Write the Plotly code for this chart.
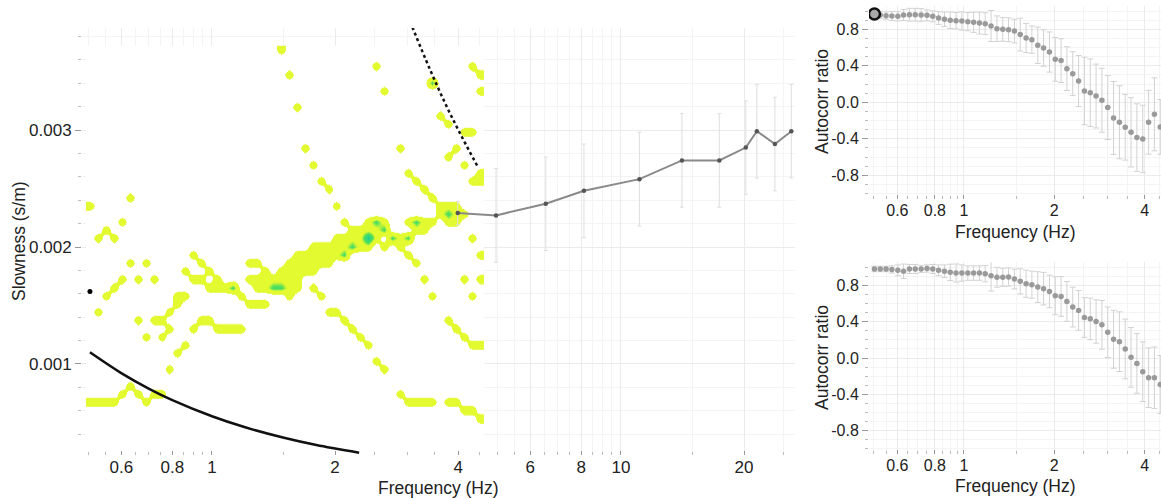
import numpy as np
import plotly.graph_objects as go

FONT = "Liberation Sans, Arial, Helvetica, sans-serif"
W, H = 1161, 499

# ---- frequency sampling shared by the heatmap columns and autocorr points (Hz)
freqs = [0.503, 0.526, 0.550, 0.575, 0.602, 0.629, 0.658, 0.688, 0.720, 0.753,
         0.787, 0.823, 0.861, 0.900, 0.941, 0.984, 1.030, 1.077, 1.126, 1.177,
         1.231, 1.288, 1.347, 1.408, 1.473, 1.540, 1.611, 1.684, 1.762, 1.842,
         1.927, 2.015, 2.107, 2.203, 2.304, 2.410, 2.520, 2.636, 2.756, 2.882,
         3.014, 3.152, 3.297, 3.448, 3.605, 3.770, 3.943, 4.124, 4.312, 4.510]

# ---- slowness bins of the heatmap (s/m), ascending
slow_bins = [0.000185, 0.000255, 0.000325, 0.000395, 0.000465, 0.000535, 0.000605,
             0.000675, 0.000745, 0.000815, 0.000885, 0.000955, 0.001025, 0.001095,
             0.001165, 0.001235, 0.001305, 0.001375, 0.001445, 0.001515, 0.001585,
             0.001655, 0.001725, 0.001795, 0.001865, 0.001935, 0.002005, 0.002075,
             0.002145, 0.002215, 0.002285, 0.002355, 0.002425, 0.002495, 0.002565,
             0.002635, 0.002705, 0.002775, 0.002845, 0.002915, 0.002985, 0.003055,
             0.003125, 0.003195, 0.003265, 0.003335, 0.003405, 0.003475, 0.003545,
             0.003615, 0.003685]

# ---- heatmap levels, one string per slowness bin, top (largest slowness) first
# '.' = below threshold, '1' = yellow, '2' = green, '3' = cyan peak
heat_rows = [
    "..........|..........|....1.....|..........|..........",
    "..........|..........|..........|..........|..........",
    "..........|..........|..........|......1...|........1.",
    "..........|..........|.....1....|..........|.........1",
    "..........|..........|..........|..........|...2......",
    "..........|..........|..........|.......1..|.........1",
    "..........|..........|..........|..........|..........",
    "..........|..........|......1...|..........|..........",
    "..........|..........|..........|..........|....1.....",
    "..........|..........|..........|..........|.....1....",
    "..........|..........|..........|..........|.......11.",
    "..........|..........|..........|..........|..........",
    "..........|..........|.......1..|.........1|......1...",
    "..........|..........|..........|..........|.....1....",
    "..........|..........|........1.|..........|.......1..",
    "..........|..........|..........|..........|1........1",
    "..........|..........|.........1|..........|.1......11",
    "..........|..........|..........|1.........|..1.......",
    ".....1....|..........|..........|..........|...1......",
    "1.........|..........|..........|.1........|....111...",
    "..........|..........|..........|..........|....1211..",
    "....1.....|..........|..........|..1..121..|1211.11...",
    "..1.......|..........|..........|...11112..|.11.......",
    ".1.1......|..........|..........|.111131.21|2.......1.",
    "..........|..........|........11|111211.1.1|..........",
    "..........|...1......|......1111|112.......|1........1",
    ".....1.1..|....1.....|11...11111|1.........|.1........",
    "..........|..1..1....|..1.11111.|..........|..........",
    "....1.1.1.|...11.1...|1111111...|..........|..1....1.1",
    "...1......|.....1112.|.112211.1.|..........|..........",
    "..1.......|.11......1|.....1...1|..........|...1....1.",
    "..........|.1........|111.......|..........|..........",
    ".1........|1.........|..........|11........|..........",
    "......1.11|....11....|..........|..1.......|.....1....",
    "..........|1..1..1111|..........|...1......|......1...",
    ".......1.1|..........|..........|....1.....|.......1..",
    "..........|..1.......|..........|.....1....|........11",
    "..........|.1........|..........|..........|..........",
    "..........|..........|..........|......1...|..........",
    "..........|1.........|..........|.......1..|..........",
    "..........|..........|..........|..........|..........",
    ".....1....|..........|..........|..........|..........",
    "....1.1.11|..........|..........|.........1|..........",
    "1111...1..|..........|..........|..........|1111.11...",
    "..........|..........|..........|..........|.......11.",
    "..........|..........|..........|..........|.........1",
    "..........|..........|..........|..........|..........",
    "..........|..........|..........|..........|..........",
    "..........|..........|..........|..........|..........",
    "..........|..........|..........|..........|..........",
    "..........|..........|..........|..........|..........",
]

# ---- resolution-limit curves (solid: large-wavelength limit, dotted: small-wavelength limit)
lim_f = [0.503, 0.6, 0.7, 0.8, 1.0, 1.2, 1.5, 1.8, 2.0, 2.29]
lim_s = [0.00110, 0.000922, 0.000790, 0.000691, 0.000553, 0.000461, 0.000369, 0.000307, 0.000277, 0.000242]
dot_f = [3.09, 3.4, 3.75, 4.1, 4.46]
dot_s = [0.00388, 0.00353, 0.00320, 0.00293, 0.00269]
mark_f = [0.503]
mark_s = [0.00162]

# ---- picked dispersion curve (gray)
disp_f = [3.99, 4.95, 6.55, 8.12, 11.1, 14.1, 17.4, 20.2, 21.5, 23.8, 26.1]
disp_s = [0.00229, 0.00227, 0.00237, 0.00248, 0.00258, 0.00274, 0.00274, 0.00285, 0.00299, 0.00288, 0.00299]
disp_err = [0.0001, 0.0004, 0.0004, 0.0004, 0.0004, 0.0004, 0.0004, 0.0004, 0.0004, 0.0004, 0.0004]

# ---- autocorrelation ratios (top and bottom right panels)
ac1 = [0.968, 0.957, 0.950, 0.946, 0.942, 0.957, 0.960, 0.960, 0.957, 0.953,
       0.942, 0.924, 0.910, 0.899, 0.895, 0.891, 0.884, 0.877, 0.869, 0.862,
       0.836, 0.807, 0.800, 0.796, 0.781, 0.742, 0.705, 0.687, 0.625, 0.595,
       0.551, 0.471, 0.457, 0.369, 0.314, 0.233, 0.124, 0.106, 0.069, 0.022,
       -0.058, -0.172, -0.219, -0.274, -0.329, -0.387, -0.402, -0.219, -0.132, -0.270]
err1 = [0.03, 0.04, 0.04, 0.05, 0.05, 0.06, 0.07, 0.07, 0.07, 0.06,
        0.06, 0.07, 0.08, 0.09, 0.09, 0.10, 0.10, 0.11, 0.12, 0.12,
        0.17, 0.14, 0.13, 0.13, 0.13, 0.18, 0.16, 0.15, 0.20, 0.20,
        0.22, 0.24, 0.24, 0.24, 0.24, 0.28, 0.37, 0.37, 0.35, 0.35,
        0.35, 0.40, 0.40, 0.36, 0.38, 0.37, 0.37, 0.35, 0.40, 0.30]
ac2 = [0.985, 0.985, 0.985, 0.980, 0.970, 0.960, 0.985, 0.985, 0.985, 0.990,
       0.985, 0.970, 0.960, 0.948, 0.940, 0.940, 0.940, 0.940, 0.940, 0.933,
       0.911, 0.893, 0.893, 0.896, 0.874, 0.848, 0.822, 0.811, 0.785, 0.767,
       0.737, 0.689, 0.681, 0.626, 0.563, 0.526, 0.448, 0.433, 0.404, 0.367,
       0.285, 0.207, 0.181, 0.100, 0.007, -0.060, -0.152, -0.218, -0.218, -0.293]
err2 = [0.03, 0.03, 0.03, 0.04, 0.06, 0.08, 0.05, 0.05, 0.04, 0.04,
        0.05, 0.06, 0.07, 0.09, 0.10, 0.09, 0.08, 0.08, 0.08, 0.09,
        0.17, 0.11, 0.10, 0.10, 0.11, 0.14, 0.15, 0.15, 0.17, 0.18,
        0.18, 0.21, 0.22, 0.22, 0.22, 0.22, 0.22, 0.23, 0.24, 0.27,
        0.28, 0.32, 0.33, 0.33, 0.33, 0.33, 0.33, 0.33, 0.34, 0.32]

# ---- ticks
x_major_left = [0.6, 0.8, 1, 2, 4, 6, 8, 10, 20]
x_minor_left = [0.5, 0.55, 0.65, 0.7, 0.75, 0.85, 0.9, 0.95, 1.5, 2.5, 3, 3.5, 4.5,
                5, 5.5, 6.5, 7, 7.5, 8.5, 9, 9.5, 15, 25]
y_major_left = [0.001, 0.002, 0.003]
x_major_right = [0.6, 0.8, 1, 2, 4]
x_minor_right = [0.5, 0.55, 0.65, 0.7, 0.75, 0.85, 0.9, 0.95, 1.5, 2.5, 3, 3.5, 4.5]
y_major_right = [-0.8, -0.4, 0.0, 0.4, 0.8]

level = {'.': 0, '1': 1, '2': 2, '3': 3}
z = [[level[ch] for ch in row.replace('|', '')] for row in reversed(heat_rows)]

heat_cs = [[0.0, '#ffffff'], [0.145, '#ffffff'], [0.15, '#e3fa30'], [0.44, '#e3fa30'],
           [0.6, '#4fdf5e'], [0.75, '#3edb6e'], [1.0, '#1cc8a8']]

fig = go.Figure()
fig.add_trace(go.Heatmap(x=freqs, y=slow_bins, z=z, zmin=0, zmax=3, colorscale=heat_cs,
                         zsmooth='best', showscale=False, hoverinfo='skip',
                         xaxis='x', yaxis='y'))
fig.add_trace(go.Scatter(x=disp_f, y=disp_s, mode='lines+markers',
                         line=dict(color='#8a8a8a', width=2),
                         marker=dict(color='#555555', size=4.5),
                         error_y=dict(type='data', array=disp_err, color='#dedede',
                                      thickness=1, width=2),
                         xaxis='x', yaxis='y'))
fig.add_trace(go.Scatter(x=lim_f, y=lim_s, mode='lines', line=dict(color='#111111', width=2.5, shape='spline'),
                         xaxis='x', yaxis='y'))
fig.add_trace(go.Scatter(x=dot_f, y=dot_s, mode='lines', line=dict(color='#111111', width=2.5, dash='dot', shape='spline'),
                         xaxis='x', yaxis='y'))
fig.add_trace(go.Scatter(x=mark_f, y=mark_s, mode='markers', marker=dict(color='#000000', size=5),
                         xaxis='x', yaxis='y'))

for ac, er, xa, ya in [(ac1, err1, 'x2', 'y2'), (ac2, err2, 'x3', 'y3')]:
    fig.add_trace(go.Scatter(x=freqs, y=ac, mode='markers',
                             marker=dict(color='#9a9a9a', size=5.5),
                             error_y=dict(type='data', array=er, color='#d2d2d2', thickness=1, width=3),
                             xaxis=xa, yaxis=ya))
fig.add_trace(go.Scatter(x=freqs[:1], y=ac1[:1], mode='markers',
                         marker=dict(color='#a8a8a8', size=11, line=dict(color='#111111', width=2.5)),
                         xaxis='x2', yaxis='y2'))


def xaxis_def(domain, rng, major, minor, anchor, fsize):
    return dict(type='log', domain=domain, range=rng, anchor=anchor,
                tickmode='array', tickvals=major, ticktext=[('%g' % v) for v in major],
                ticks='inside', ticklen=4, tickcolor='#999999', tickwidth=1,
                tickfont=dict(family=FONT, size=fsize, color='#222222'),
                showgrid=True, gridcolor='#ebebeb', gridwidth=1,
                zeroline=False, showline=False,
                minor=dict(tickmode='array', tickvals=minor, ticks='inside', ticklen=3,
                           tickcolor='#bbbbbb', showgrid=True, gridcolor='#f4f4f4'))


def yaxis_def(domain, rng, major, labels, minor_dtick, anchor, fsize):
    return dict(domain=domain, range=rng, anchor=anchor,
                tickmode='array', tickvals=major, ticktext=labels,
                ticks='outside', ticklen=6, tickcolor='#999999', tickwidth=1,
                tickfont=dict(family=FONT, size=fsize, color='#222222'),
                showgrid=True, gridcolor='#ebebeb', gridwidth=1,
                zeroline=False, showline=False,
                minor=dict(dtick=minor_dtick, ticks='outside', ticklen=3,
                           tickcolor='#bbbbbb', showgrid=True, gridcolor='#f4f4f4'))


left_xd = [82 / W, 795 / W]
left_yd = [1 - 455 / H, 1 - 28 / H]
right_xd = [869 / W, 1.0]
top_yd = [1 - 199 / H, 1 - 5.6 / H]
bot_yd = [1 - 453.8 / H, 1 - 262.2 / H]

fig.update_layout(
    width=W, height=H, margin=dict(l=0, r=0, t=0, b=0),
    paper_bgcolor='white', plot_bgcolor='white', showlegend=False, hovermode=False,
    xaxis=xaxis_def(left_xd, [np.log10(0.481), np.log10(26.65)], x_major_left, x_minor_left, 'y', 17),
    yaxis=yaxis_def(left_yd, [0.000222, 0.003872], y_major_left, ['0.001', '0.002', '0.003'], 0.0002, 'x', 17),
    xaxis2=xaxis_def(right_xd, [np.log10(0.4825), np.log10(4.536)], x_major_right, x_minor_right, 'y2', 16),
    yaxis2=yaxis_def(top_yd, [-1.06, 1.06], y_major_right, ['%.1f' % v for v in y_major_right], 0.1, 'x2', 16),
    xaxis3=xaxis_def(right_xd, [np.log10(0.4825), np.log10(4.536)], x_major_right, x_minor_right, 'y3', 16),
    yaxis3=yaxis_def(bot_yd, [-1.06, 1.06], y_major_right, ['%.1f' % v for v in y_major_right], 0.1, 'x3', 16),
)

title_font = dict(family=FONT, size=17.5, color='#222222')
titles = [
    ("Frequency (Hz)", 438, 488, 0),
    ("Slowness (s/m)", 19, 241, -90),
    ("Frequency (Hz)", 1015, 232, 0),
    ("Autocorr ratio", 822, 102, -90),
    ("Frequency (Hz)", 1015, 486, 0),
    ("Autocorr ratio", 822, 358, -90),
]
for txt, px, py, ang in titles:
    fig.add_annotation(text=txt, x=px / W, y=1 - py / H, xref='paper', yref='paper',
                       xanchor='center', yanchor='middle', showarrow=False,
                       textangle=ang, font=title_font)

fig.write_html("out.html")
